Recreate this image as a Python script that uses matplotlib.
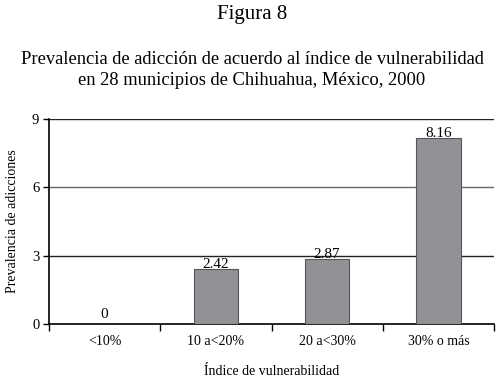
import numpy as np
import matplotlib.pyplot as plt

# -------- Data --------
categories = ["<10%", "10 a<20%", "20 a<30%", "30% o más"]
values = [0, 2.42, 2.87, 8.16]
value_labels = ["0", "2.42", "2.87", "8.16"]
y_ticks = [0, 3, 6, 9]

plt.rcParams['font.family'] = ['Liberation Serif', 'DejaVu Serif']

fig = plt.figure(figsize=(5.04, 3.82), dpi=100)
ax = fig.add_axes([0.0972, 0.152, 0.883, 0.5366])

x = np.arange(len(categories))
ax.bar(x, values, width=0.4, color="#929296", edgecolor="#555555", linewidth=0.8, zorder=3)

# value labels sit on the bar tops (the zero label a bit above the axis)
for xi, v, lab in zip(x, values, value_labels):
    ax.text(xi, max(v, 0.25) + 0.03, lab, ha="center", va="baseline", fontsize=11, zorder=4)

# grid lines
grid_colors = {3: "#222222", 6: "#666666", 9: "#222222"}
for yv, c in grid_colors.items():
    ax.axhline(yv, color=c, linewidth=1.0, zorder=1)

ax.set_xlim(-0.5, len(categories) - 0.5)
ax.set_ylim(0, 9)
ax.set_yticks(y_ticks)
ax.set_yticklabels([str(t) for t in y_ticks], fontsize=10.5)
ax.set_xticks(x)
ax.set_xticklabels(categories, fontsize=10)
ax.tick_params(axis="x", which="major", length=0, pad=8)
ax.set_xticks(np.arange(-0.5, len(categories)), minor=True)
ax.tick_params(axis="x", which="minor", length=5, width=1, direction="out")
ax.tick_params(axis="y", length=4, width=1, direction="out", pad=3)

for side in ["top", "right"]:
    ax.spines[side].set_visible(False)
ax.spines["left"].set_linewidth(1.2)
ax.spines["bottom"].set_linewidth(1.2)

ax.set_ylabel("Prevalencia de adicciones", fontsize=10, labelpad=9)
ax.set_xlabel("Índice de vulnerabilidad", fontsize=10, labelpad=12)

fig.text(0.5, 0.962, "Figura 8", ha="center", va="center", fontsize=15)
fig.text(0.5, 0.817, "Prevalencia de adicción de acuerdo al índice de vulnerabilidad\nen 28 municipios de Chihuahua, México, 2000",
         ha="center", va="center", fontsize=13.3, linespacing=1.25)

fig.savefig("out.png", dpi=100)
